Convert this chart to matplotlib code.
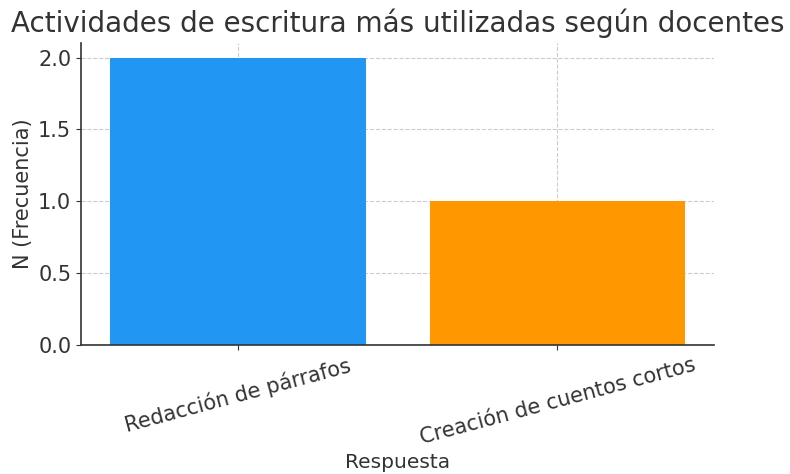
import matplotlib.pyplot as plt

# datos
categorias = ['Redacción de párrafos', 'Creación de cuentos cortos']
frecuencias = [2, 1]
colores = ['#2196F3', '#FF9800']

plt.rcParams['font.family'] = ['DejaVu Sans']
plt.rcParams['text.color'] = '#333333'
plt.rcParams['axes.labelcolor'] = '#333333'
plt.rcParams['xtick.color'] = '#333333'
plt.rcParams['ytick.color'] = '#333333'

fig = plt.figure(figsize=(7.9, 4.74), dpi=100)
ax = fig.add_axes([0.1025, 0.272, 0.8015, 0.637])

ax.bar(categorias, frecuencias, color=colores, width=0.8, zorder=2)

ax.set_title('Actividades de escritura más utilizadas según docentes', fontsize=20, pad=8)
ax.set_xlabel('Respuesta', fontsize=14.5)
ax.set_ylabel('N (Frecuencia)', fontsize=15)
ax.tick_params(axis='both', labelsize=15)
plt.setp(ax.get_xticklabels(), rotation=15)

ax.grid(True, linestyle='--', color='#cccccc', linewidth=0.8, zorder=0)
ax.set_axisbelow(True)
ax.spines['top'].set_visible(False)
ax.spines['right'].set_visible(False)
for s in ['left', 'bottom']:
    ax.spines[s].set_color('#333333')
    ax.spines[s].set_linewidth(1.2)

fig.savefig('out.png', dpi=100)
